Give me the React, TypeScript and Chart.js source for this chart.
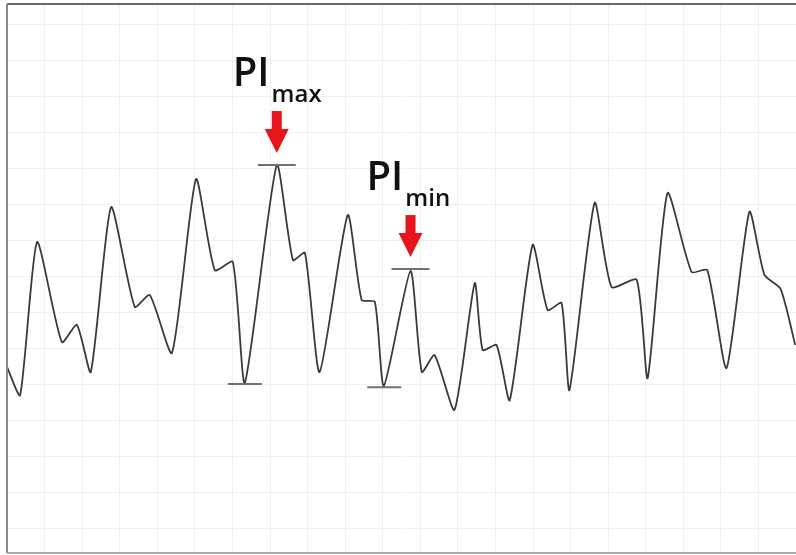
import React, { useEffect, useRef } from "react";
import { Chart, registerables } from "chart.js";

Chart.register(...registerables);

// Time in grid divisions, amplitude in grid divisions
const TIME = [
  0, 0.35, 0.8, 1.46, 1.86, 2.23, 2.77, 3.4, 3.8, 4.39, 5.03, 5.53, 6.01, 6.33,
  7.18, 7.61, 7.93, 8.32, 9.07, 9.44, 9.79, 10.03, 10.74, 11.04, 11.38, 11.91,
  12.45, 12.66, 13.03, 13.38, 13.99, 14.39, 14.76, 14.97, 15.64, 16.09, 16.76,
  17.05, 17.58, 18.22, 18.64, 19.15, 19.76, 20.16, 20.59, 20.98,
];
const AMPLITUDE = [
  4.5, 3.72, 7.97, 5.19, 5.67, 4.36, 8.94, 6.17, 6.5, 4.89, 9.72, 7.19, 7.42, 4.06,
  10.11, 7.47, 7.67, 4.36, 8.72, 6.36, 6.31, 3.97, 7.17, 4.36, 4.83, 3.31,
  6.83, 4.97, 5.11, 3.58, 7.89, 6.08, 6.28, 3.86, 9.06, 6.72, 6.92,
  4.19, 9.33, 7.14, 7.19, 4.47, 8.81, 7.06, 6.67, 5.11,
];

const MARKER_LABELS = ["max", "min"];
const MARKER_PEAK_X = [7.18, 10.74];
const MARKER_PEAK_Y = [10.11, 7.22];
const MARKER_TROUGH_X = [6.33, 10.04];
const MARKER_TROUGH_Y = [4.03, 3.94];

const X_MIN = 0;
const X_MAX = 21;
const Y_MIN = -0.667;
const Y_MAX = 14.583;

const annotationPlugin = {
  id: "piAnnotations",
  afterDatasetsDraw(chart: any) {
    const { ctx, scales, chartArea } = chart;
    const xs = scales.x;
    const ys = scales.y;
    ctx.save();
    MARKER_LABELS.forEach((label, i) => {
      const px = xs.getPixelForValue(MARKER_PEAK_X[i]);
      const py = ys.getPixelForValue(MARKER_PEAK_Y[i]);
      const tx = xs.getPixelForValue(MARKER_TROUGH_X[i]);
      const ty = ys.getPixelForValue(MARKER_TROUGH_Y[i]);
      // marker lines
      ctx.strokeStyle = "#707070";
      ctx.lineWidth = 2;
      ctx.beginPath();
      ctx.moveTo(px - 19, py);
      ctx.lineTo(px + 19, py);
      ctx.moveTo(tx - 17, ty);
      ctx.lineTo(tx + 17, ty);
      ctx.stroke();
      // arrow
      ctx.fillStyle = "#e8141c";
      ctx.fillRect(px - 5, py - 54, 10, 20);
      ctx.beginPath();
      ctx.moveTo(px - 12, py - 36);
      ctx.lineTo(px + 12, py - 36);
      ctx.lineTo(px, py - 12);
      ctx.closePath();
      ctx.fill();
      // text
      ctx.fillStyle = "#111";
      ctx.textBaseline = "alphabetic";
      ctx.textAlign = "left";
      ctx.font = '600 40px "Open Sans", sans-serif';
      const lx = px - 44;
      const ly = py - 79;
      ctx.fillText("PI", lx, ly);
      const w = ctx.measureText("PI").width;
      ctx.font = '600 24px "Open Sans", sans-serif';
      ctx.fillText(label, lx + w + 2, ly + 16);
    });
    // frame
    ctx.lineWidth = 2;
    ctx.strokeStyle = "#6a6a6a";
    ctx.beginPath();
    ctx.moveTo(chartArea.left, chartArea.top);
    ctx.lineTo(chartArea.right, chartArea.top);
    ctx.stroke();
    ctx.strokeStyle = "#8a8a8a";
    ctx.beginPath();
    ctx.moveTo(chartArea.left, chartArea.bottom);
    ctx.lineTo(chartArea.left, chartArea.top);
    ctx.stroke();
    ctx.strokeStyle = "#a8a8a8";
    ctx.beginPath();
    ctx.moveTo(chartArea.left, chartArea.bottom);
    ctx.lineTo(chartArea.right, chartArea.bottom);
    ctx.stroke();
    ctx.restore();
  },
};

export default function App() {
  const ref = useRef<HTMLCanvasElement | null>(null);
  useEffect(() => {
    if (!ref.current) return;
    const chart = new Chart(ref.current, {
      type: "line",
      data: {
        datasets: [
          {
            data: TIME.map((t, i) => ({ x: t, y: AMPLITUDE[i] })),
            borderColor: "#3a3a3a",
            borderWidth: 1.8,
            pointRadius: 0,
            tension: 0.2,
            fill: false,
          },
        ],
      },
      options: {
        animation: false,
        responsive: false,
        layout: { padding: { left: 7, top: 4, right: 0, bottom: 2 } },
        plugins: { legend: { display: false }, tooltip: { enabled: false } },
        scales: {
          x: {
            type: "linear",
            min: X_MIN,
            max: X_MAX,
            ticks: { display: false, stepSize: 1, includeBounds: false },
            grid: { color: "#f0f0f0", drawTicks: false, lineWidth: 1 },
            border: { display: false },
          },
          y: {
            type: "linear",
            min: Y_MIN,
            max: Y_MAX,
            ticks: { display: false, stepSize: 1, includeBounds: false },
            grid: { color: "#f0f0f0", drawTicks: false, lineWidth: 1 },
            border: { display: false },
          },
        },
      },
      plugins: [annotationPlugin],
    });
    return () => chart.destroy();
  }, []);
  return (
    <div style={{ position: "fixed", left: 0, top: 0, width: 796, height: 555, background: "#fff" }}>
      <canvas ref={ref} width={796} height={555} />
    </div>
  );
}
